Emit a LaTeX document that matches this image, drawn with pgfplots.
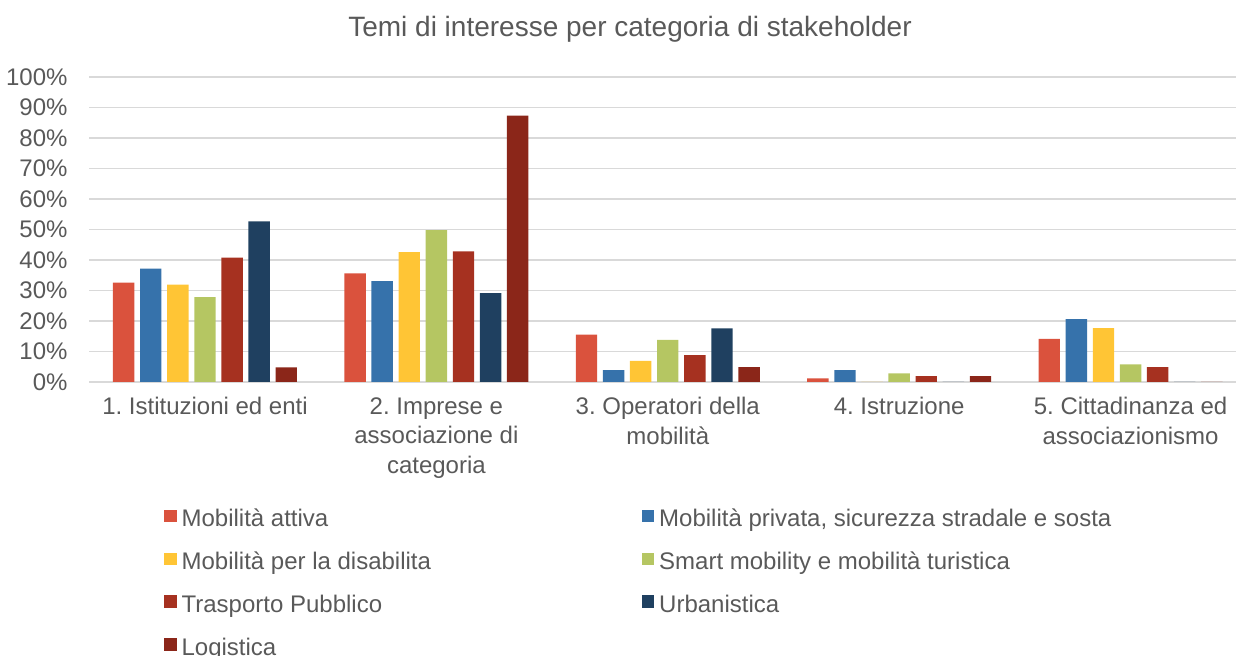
\documentclass[border=0pt]{standalone}
\usepackage{pgfplots}
\pgfplotsset{compat=1.18}
\usepackage{fontspec}
\setmainfont{Liberation Sans}
\definecolor{cA}{RGB}{218,82,61}
\definecolor{cB}{RGB}{54,114,171}
\definecolor{cC}{RGB}{255,197,53}
\definecolor{cD}{RGB}{181,198,98}
\definecolor{cE}{RGB}{166,49,32}
\definecolor{cF}{RGB}{31,64,96}
\definecolor{cG}{RGB}{139,38,25}
\definecolor{textgray}{RGB}{89,89,89}
\definecolor{gridgray}{RGB}{217,217,217}
\pgfplotsset{mybar/.style={fill=#1, draw=none,
  legend image code/.code={\fill[fill=#1] (0pt,-0.85pt) rectangle (6.3pt,5.45pt);}}}
\begin{document}
\frenchspacing
\begin{tikzpicture}
\begin{axis}[
  scale only axis, width=573.5pt, height=152.5pt,
  xmin=-0.5, xmax=4.457, ymin=0, ymax=100,
  ybar=2.85pt, bar width=10.7pt,
  xtick={0,1,2,3,4},
  xticklabels={1. Istituzioni ed enti, {2. Imprese e\\associazione di\\categoria}, {3. Operatori della\\mobilità}, 4. Istruzione, {5. Cittadinanza ed\\associazionismo}},
  ytick={0,10,...,100},
  yticklabel={\pgfmathprintnumber{\tick}\%},
  /pgf/number format/assume math mode=true,
  tick label style={font=\fontsize{12}{14.85}\selectfont, text=textgray},
  xticklabel style={align=center, anchor=north, inner sep=0pt, yshift=-7.5pt},
  yticklabel style={anchor=east, inner sep=0pt, xshift=-10.7pt},
  major tick length=0pt,
  axis line style={draw=none},
  ymajorgrids, major grid style={color=gridgray, line width=0.75pt},
  legend columns=2,
  legend cell align=left,
  legend style={draw=none, fill=none, inner sep=0pt, outer sep=0pt,
    at={(0,0)}, anchor=north west, xshift=37.35pt, yshift=-63.8pt,
    font=\fontsize{12}{14.4}\selectfont, text=textgray,
    nodes={inner sep=0pt, text height=8.7pt, text depth=2.5pt},
    row sep=10.15pt,
    /tikz/every odd column/.append style={column sep=2.5pt},
    /tikz/every even column/.append style={column sep=0pt}},
]
\addplot[mybar=cA] coordinates {(0,32.6) (1,35.6) (2,15.5) (3,1.2) (4,14.1)};
\addlegendentry{\makebox[230pt][l]{Mobilità attiva}}
\addplot[mybar=cB] coordinates {(0,37.2) (1,33.1) (2,3.9) (3,3.9) (4,20.6)};
\addlegendentry{Mobilità privata, sicurezza stradale e sosta}
\addplot[mybar=cC] coordinates {(0,31.9) (1,42.6) (2,6.9) (3,0) (4,17.7)};
\addlegendentry{Mobilità per la disabilita}
\addplot[mybar=cD] coordinates {(0,27.8) (1,49.8) (2,13.8) (3,2.8) (4,5.8)};
\addlegendentry{Smart mobility e mobilità turistica}
\addplot[mybar=cE] coordinates {(0,40.8) (1,42.8) (2,8.8) (3,1.9) (4,4.9)};
\addlegendentry{Trasporto Pubblico}
\addplot[mybar=cF] coordinates {(0,52.7) (1,29.1) (2,17.6) (3,0) (4,0)};
\addlegendentry{Urbanistica}
\addplot[mybar=cG] coordinates {(0,4.8) (1,87.3) (2,4.9) (3,1.9) (4,0)};
\addlegendentry{Logistica}
\end{axis}
\node[anchor=base, font=\fontsize{14}{16}\selectfont, text=textgray, inner sep=0pt]
  at ([shift={(270.35pt,172.5pt)}]current axis.south west) {Temi di interesse per categoria di stakeholder};
\pgfresetboundingbox
\path ([shift={(-44.65pt,-137pt)}]current axis.south west) rectangle ([shift={(573.35pt,191pt)}]current axis.south west);
\end{tikzpicture}
\end{document}
